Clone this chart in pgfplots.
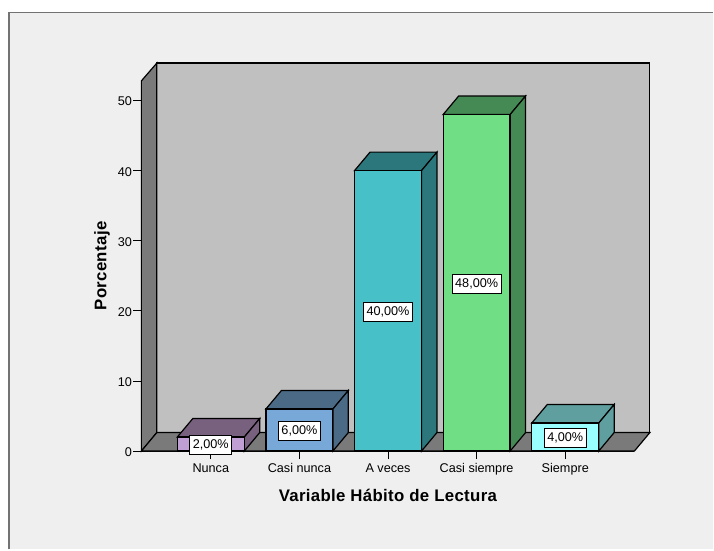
\documentclass[border=0pt]{standalone}
\usepackage{pgfplots}
\pgfplotsset{compat=1.18}
\usepackage{fontspec}
\setmainfont{Liberation Sans}
\newfontface\labelfont[LetterSpace=2]{Liberation Sans Bold}
\definecolor{canvas}{HTML}{EFEFEF}
\definecolor{wallback}{HTML}{C0C0C0}
\definecolor{wallside}{HTML}{7A7A7A}
\definecolor{nuncaF}{HTML}{C0A0D4}
\definecolor{nuncaS}{HTML}{78607F}
\definecolor{casinF}{HTML}{78A8D8}
\definecolor{casinS}{HTML}{4A6A86}
\definecolor{avecesF}{HTML}{47C1C7}
\definecolor{avecesS}{HTML}{2C777C}
\definecolor{casisF}{HTML}{70DE85}
\definecolor{casisS}{HTML}{458A55}
\definecolor{siempF}{HTML}{99FFFF}
\definecolor{siempS}{HTML}{5F9FA0}
\tikzset{pct/.style={draw=black, fill=white, line width=0.75pt, font=\fontsize{9.5}{11}\selectfont,
    inner xsep=2.3pt, inner ysep=0pt, minimum height=14.5pt, yshift=-0.8pt}}
\begin{document}
\begin{tikzpicture}[x=0.75pt, y=0.75pt]
% page: 714x550 px, origin at front floor corner (141.5, 451.5)
\fill[white] (-141.5,-98.5) rectangle (572.5,451.5);
\fill[canvas] (-132.5,-98.5) rectangle (572.5,439);
\draw[black!55, line width=1pt] (-132.5,-98.5) -- (-132.5,439) -- (572.5,439);
\useasboundingbox (-141.5,-98.5) rectangle (572.5,451.5);
\begin{axis}[
    scale only axis,
    width=370.1pt,
    height=277.9pt,
    xmin=-0.7835, xmax=4.78,
    ymin=0, ymax=52.8,
    clip=false,
    axis x line*=bottom,
    axis y line*=left,
    axis line style={-, black, line width=0.9pt},
    tick align=outside,
    major tick length=6pt,
    tick style={black, line width=0.7pt},
    xtick={0,1,2,3,4},
    xticklabels={Nunca, Casi nunca, A veces, Casi siempre, Siempre},
    ytick={0,10,20,30,40,50},
    tick label style={font=\fontsize{9.5}{11}\selectfont},
    yticklabel style={xshift=2.4pt, yshift=-0.8pt},
    xlabel={\labelfont Variable Hábito de Lectura},
    ylabel={\labelfont Porcentaje},
    label style={font=\fontsize{12.6}{14}\selectfont},
    xlabel style={yshift=-3.5pt},
    ylabel style={yshift=-1pt},
    /pgf/number format/assume math mode=true,
    every axis plot/.append style={draw=black, line width=0.9pt},
]
% back wall, side wall, floor
\addplot[fill=wallback] coordinates {(-0.609,2.64) (4.955,2.64) (4.955,55.34) (-0.609,55.34)} --cycle;
\addplot[fill=wallside] coordinates {(-0.7835,0) (-0.609,2.64) (-0.609,55.34) (-0.7835,52.8)} --cycle;
\addplot[fill=wallside] coordinates {(-0.7835,0) (-0.609,2.64) (4.955,2.64) (4.78,0)} --cycle;

% Nunca
\addplot[fill=nuncaS] coordinates {(-0.378,2) (-0.203,4.64) (0.552,4.64) (0.378,2)} --cycle;
\addplot[fill=nuncaS] coordinates {(0.378,0) (0.552,2.64) (0.552,4.64) (0.378,2)} --cycle;
\addplot[ybar, bar shift=0pt, bar width=0.755, fill=nuncaF] coordinates {(0,2)};
% Casi nunca
\addplot[fill=casinS] coordinates {(0.622,6) (0.797,8.64) (1.552,8.64) (1.378,6)} --cycle;
\addplot[fill=casinS] coordinates {(1.378,0) (1.552,2.64) (1.552,8.64) (1.378,6)} --cycle;
\addplot[ybar, bar shift=0pt, bar width=0.755, fill=casinF] coordinates {(1,6)};
% A veces
\addplot[fill=avecesS] coordinates {(1.622,40) (1.797,42.64) (2.552,42.64) (2.378,40)} --cycle;
\addplot[fill=avecesS] coordinates {(2.378,0) (2.552,2.64) (2.552,42.64) (2.378,40)} --cycle;
\addplot[ybar, bar shift=0pt, bar width=0.755, fill=avecesF] coordinates {(2,40)};
% Casi siempre
\addplot[fill=casisS] coordinates {(2.622,48) (2.797,50.64) (3.552,50.64) (3.378,48)} --cycle;
\addplot[fill=casisS] coordinates {(3.378,0) (3.552,2.64) (3.552,50.64) (3.378,48)} --cycle;
\addplot[ybar, bar shift=0pt, bar width=0.755, fill=casisF] coordinates {(3,48)};
% Siempre
\addplot[fill=siempS] coordinates {(3.622,4) (3.797,6.64) (4.552,6.64) (4.378,4)} --cycle;
\addplot[fill=siempS] coordinates {(4.378,0) (4.552,2.64) (4.552,6.64) (4.378,4)} --cycle;
\addplot[ybar, bar shift=0pt, bar width=0.755, fill=siempF] coordinates {(4,4)};

\node[pct] at (axis cs:0,1) {2,00\%};
\node[pct] at (axis cs:1,3) {6,00\%};
\node[pct] at (axis cs:2,20) {40,00\%};
\node[pct] at (axis cs:3,24) {48,00\%};
\node[pct] at (axis cs:4,2) {4,00\%};
\end{axis}
\end{tikzpicture}
\end{document}
